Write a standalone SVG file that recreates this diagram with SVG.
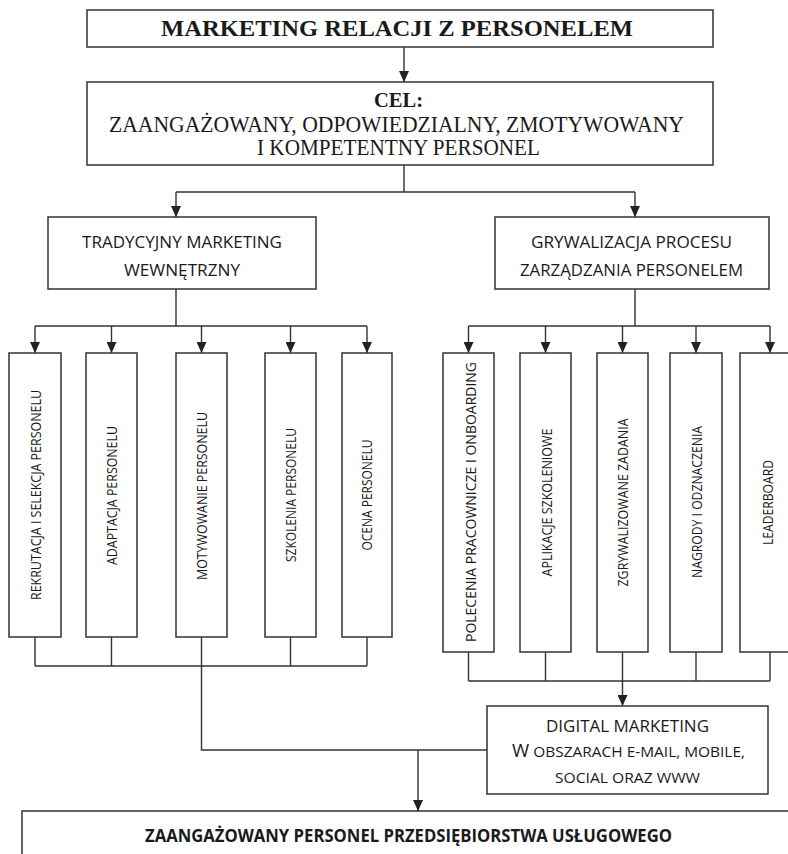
<svg xmlns="http://www.w3.org/2000/svg" width="788" height="854" viewBox="0 0 788 854">
<style>
.box{fill:#fff;stroke:#333;stroke-width:1.5}
.ln{fill:none;stroke:#333;stroke-width:1.4}
.ar{fill:none;stroke:#333;stroke-width:1.4;marker-end:url(#ah)}
.serif{font-family:"Liberation Serif","Times New Roman",serif;fill:#1a1a1a}
.sans{font-family:"Open Sans","Liberation Sans",sans-serif;fill:#1a1a1a}
.v{font-family:"Open Sans","Liberation Sans",sans-serif;fill:#1a1a1a;font-size:14.5px;text-anchor:middle}
</style>
<defs>
<marker id="ah" viewBox="0 0 11 10" refX="11" refY="5" markerWidth="11" markerHeight="10" markerUnits="userSpaceOnUse" orient="auto">
<path d="M0,0 L11,5 L0,10 z" fill="#222"/>
</marker>
</defs>
<rect width="788" height="854" fill="#fff"/>

<g id="connectors">
<path class="ar" d="M404,47 V82"/>
<path class="ln" d="M404,165 V192 M176,192 H635"/>
<path class="ar" d="M176,192 V217"/>
<path class="ar" d="M635,192 V217"/>
<path class="ln" d="M176,289 V326 M35,326 H367"/>
<path class="ar" d="M35,326 V353"/>
<path class="ar" d="M111.5,326 V353"/>
<path class="ar" d="M201.5,326 V353"/>
<path class="ar" d="M290.5,326 V353"/>
<path class="ar" d="M367,326 V353"/>
<path class="ln" d="M635,289 V326 M468.5,326 H770"/>
<path class="ar" d="M468.5,326 V353"/>
<path class="ar" d="M545.5,326 V353"/>
<path class="ar" d="M622.5,326 V353"/>
<path class="ar" d="M696,326 V353"/>
<path class="ar" d="M770,326 V353"/>
<path class="ln" d="M35,637 V666 M111.5,637 V666 M290.5,637 V666 M367,637 V666 M35,666 H367 M201.5,637 V750 H487"/>
<path class="ln" d="M468.5,652 V681 M545.5,652 V681 M696,652 V681 M770,652 V681 M468.5,681 H770"/>
<path class="ar" d="M622.5,652 V706"/>
<path class="ar" d="M418,750 V811"/>
</g>

<g id="n-title">
<rect class="box" x="87" y="10" width="626" height="37"/>
<text class="serif" x="397" y="36" font-size="24" font-weight="bold" text-anchor="middle" textLength="472" lengthAdjust="spacingAndGlyphs">MARKETING RELACJI Z PERSONELEM</text>
</g>

<g id="n-cel">
<rect class="box" x="87" y="82" width="626" height="83"/>
<text class="serif" x="398.5" y="107" font-size="21" font-weight="bold" text-anchor="middle" textLength="49" lengthAdjust="spacingAndGlyphs">CEL:</text>
<text class="serif" x="396.5" y="132" font-size="22.5" text-anchor="middle" textLength="575" lengthAdjust="spacingAndGlyphs">ZAANGAŻOWANY, ODPOWIEDZIALNY, ZMOTYWOWANY</text>
<text class="serif" x="398.5" y="155" font-size="22.5" text-anchor="middle" textLength="283" lengthAdjust="spacingAndGlyphs">I KOMPETENTNY PERSONEL</text>
</g>

<g id="n-tradycyjny">
<rect class="box" x="48" y="217" width="268" height="72"/>
<text class="sans" x="182" y="248" font-size="17" text-anchor="middle" textLength="200" lengthAdjust="spacingAndGlyphs">TRADYCYJNY MARKETING</text>
<text class="sans" x="182" y="276" font-size="17" text-anchor="middle" textLength="116" lengthAdjust="spacingAndGlyphs">WEWNĘTRZNY</text>
</g>

<g id="n-grywalizacja">
<rect class="box" x="495" y="217" width="274" height="72"/>
<text class="sans" x="631.5" y="248" font-size="17" text-anchor="middle" textLength="201" lengthAdjust="spacingAndGlyphs">GRYWALIZACJA PROCESU</text>
<text class="sans" x="631.5" y="276" font-size="17" text-anchor="middle" textLength="223" lengthAdjust="spacingAndGlyphs">ZARZĄDZANIA PERSONELEM</text>
</g>

<g id="n-rekrutacja">
<rect class="box" x="9" y="353" width="52" height="284"/>
<text class="v" transform="translate(35,495) rotate(-90)" x="0" y="5.5" textLength="210" lengthAdjust="spacingAndGlyphs">REKRUTACJA I SELEKCJA PERSONELU</text>
</g>
<g id="n-adaptacja">
<rect class="box" x="86" y="353" width="51" height="284"/>
<text class="v" transform="translate(111.5,495.5) rotate(-90)" x="0" y="5.5" textLength="139" lengthAdjust="spacingAndGlyphs">ADAPTACJA PERSONELU</text>
</g>
<g id="n-motywowanie">
<rect class="box" x="176" y="353" width="51" height="284"/>
<text class="v" transform="translate(201.5,496) rotate(-90)" x="0" y="5.5" textLength="168" lengthAdjust="spacingAndGlyphs">MOTYWOWANIE PERSONELU</text>
</g>
<g id="n-szkolenia">
<rect class="box" x="265" y="353" width="51" height="284"/>
<text class="v" transform="translate(290.5,495) rotate(-90)" x="0" y="5.5" textLength="134" lengthAdjust="spacingAndGlyphs">SZKOLENIA PERSONELU</text>
</g>
<g id="n-ocena">
<rect class="box" x="342" y="353" width="50" height="284"/>
<text class="v" transform="translate(367,495) rotate(-90)" x="0" y="5" textLength="111" lengthAdjust="spacingAndGlyphs">OCENA PERSONELU</text>
</g>

<g id="n-polecenia">
<rect class="box" x="443" y="353" width="51" height="299"/>
<text class="v" transform="translate(469,502) rotate(-90)" x="0" y="6.5" font-size="16.5" textLength="280" lengthAdjust="spacingAndGlyphs">POLECENIA PRACOWNICZE  I ONBOARDING</text>
</g>
<g id="n-aplikacje">
<rect class="box" x="520" y="353" width="51" height="299"/>
<text class="v" transform="translate(546,502.5) rotate(-90)" x="0" y="5.5" textLength="148" lengthAdjust="spacingAndGlyphs">APLIKACJE SZKOLENIOWE</text>
</g>
<g id="n-zadania">
<rect class="box" x="597" y="353" width="51" height="299"/>
<text class="v" transform="translate(622.5,502.5) rotate(-90)" x="0" y="5.2" textLength="168" lengthAdjust="spacingAndGlyphs">ZGRYWALIZOWANE ZADANIA</text>
</g>
<g id="n-nagrody">
<rect class="box" x="670" y="353" width="52" height="299"/>
<text class="v" transform="translate(696.5,502) rotate(-90)" x="0" y="5.2" textLength="152" lengthAdjust="spacingAndGlyphs">NAGRODY I ODZNACZENIA</text>
</g>
<g id="n-leaderboard">
<rect class="box" x="740" y="353" width="60" height="299"/>
<text class="v" transform="translate(768.5,502.5) rotate(-90)" x="0" y="4.8" textLength="85" lengthAdjust="spacingAndGlyphs">LEADERBOARD</text>
</g>

<g id="n-digital">
<rect class="box" x="487" y="706" width="281" height="88"/>
<text class="sans" x="627.5" y="732" font-size="17" text-anchor="middle" textLength="163" lengthAdjust="spacingAndGlyphs">DIGITAL MARKETING</text>
<text class="sans" x="512" y="757" font-size="14.5" textLength="233" lengthAdjust="spacingAndGlyphs"><tspan font-size="17.5">W</tspan> OBSZARACH E-MAIL, MOBILE,</text>
<text class="sans" x="627.5" y="783" font-size="14.5" text-anchor="middle" textLength="145" lengthAdjust="spacingAndGlyphs">SOCIAL ORAZ WWW</text>
</g>

<g id="n-result">
<rect class="box" x="22" y="811" width="800" height="60"/>
<text class="sans" x="408.5" y="842" font-size="18" font-weight="bold" text-anchor="middle" textLength="527" lengthAdjust="spacingAndGlyphs">ZAANGAŻOWANY PERSONEL PRZEDSIĘBIORSTWA USŁUGOWEGO</text>
</g>
</svg>
